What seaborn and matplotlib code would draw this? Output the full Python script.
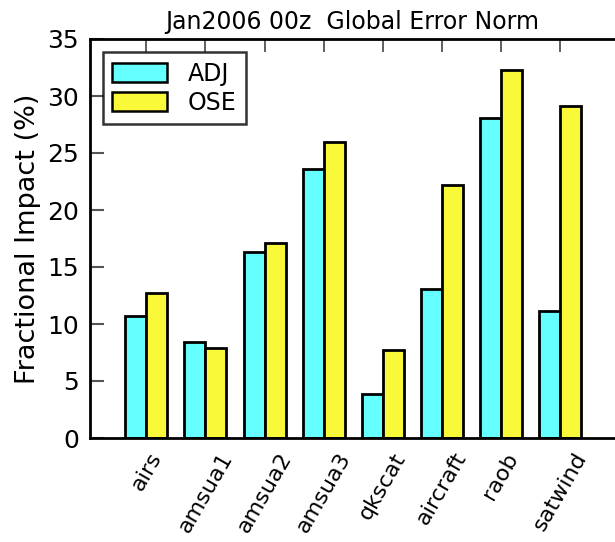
import matplotlib
matplotlib.use("Agg")
import matplotlib.pyplot as plt
import seaborn as sns
import pandas as pd

categories = ["airs", "amsua1", "amsua2", "amsua3", "qkscat", "aircraft", "raob", "satwind"]
adj = [10.7, 8.4, 16.3, 23.6, 3.9, 13.1, 28.1, 11.1]
ose = [12.7, 7.9, 17.1, 26.0, 7.7, 22.2, 32.3, 29.1]
series = ["ADJ", "OSE"]
colors = ["#66ffff", "#f9f93a"]
yticks = [0, 5, 10, 15, 20, 25, 30, 35]

df = pd.DataFrame({
    "category": categories * 2,
    "value": adj + ose,
    "series": [series[0]] * len(categories) + [series[1]] * len(categories),
})

sns.set_style("white")
plt.rcParams["font.family"] = ["DejaVu Sans"]
plt.rcParams["text.color"] = "black"
plt.rcParams["axes.labelcolor"] = "black"
plt.rcParams["xtick.color"] = "black"
plt.rcParams["ytick.color"] = "black"

fig = plt.figure(figsize=(6.15, 5.42), dpi=100)
ax = fig.add_axes([90 / 615, 1 - 438 / 542, 1 - 90 / 615, (438 - 39) / 542])

sns.barplot(data=df, x="category", y="value", hue="series", order=categories,
            hue_order=series, palette=colors, width=0.71, gap=0,
            edgecolor="black", linewidth=2, saturation=1, ax=ax, legend=True)

ax.set_xlim(-0.953, 7.93)
ax.set_ylim(0, 35)
ax.set_yticks(yticks)
ax.set_yticklabels([str(t) for t in yticks], fontsize=18, color="black")
ax.set_xticks(range(len(categories)))
ax.set_xticklabels(categories, rotation=60, ha="center", va="top",
                   rotation_mode="default", fontsize=16, color="black")
ax.set_xlabel("")
ax.set_ylabel("Fractional Impact (%)", fontsize=19.5, labelpad=4, color="black")
ax.set_title("Jan2006 00z  Global Error Norm", fontsize=17, pad=7, color="black")

for side in ["left", "bottom", "top"]:
    ax.spines[side].set_visible(True)
    ax.spines[side].set_color("black")
    ax.spines[side].set_linewidth(2)
ax.spines["right"].set_visible(False)

ax.tick_params(axis="y", direction="in", length=10, width=1.5, color="#555555",
               left=True, right=False, pad=8)
ax.tick_params(axis="x", direction="in", length=9, width=1.2, color="#444444",
               top=True, bottom=False, pad=8)

leg = ax.legend(loc="upper left", bbox_to_anchor=(0.0248, 0.967), fontsize=17,
                frameon=True, fancybox=False, handlelength=2.29, handleheight=0.85,
                handletextpad=0.9, borderpad=0.4, labelspacing=0.23, borderaxespad=0)
leg.get_frame().set_edgecolor("black")
leg.get_frame().set_linewidth(1.8)
for h in leg.legend_handles:
    h.set_edgecolor("black")
    h.set_linewidth(1.8)

fig.savefig("out.png", dpi=100)
